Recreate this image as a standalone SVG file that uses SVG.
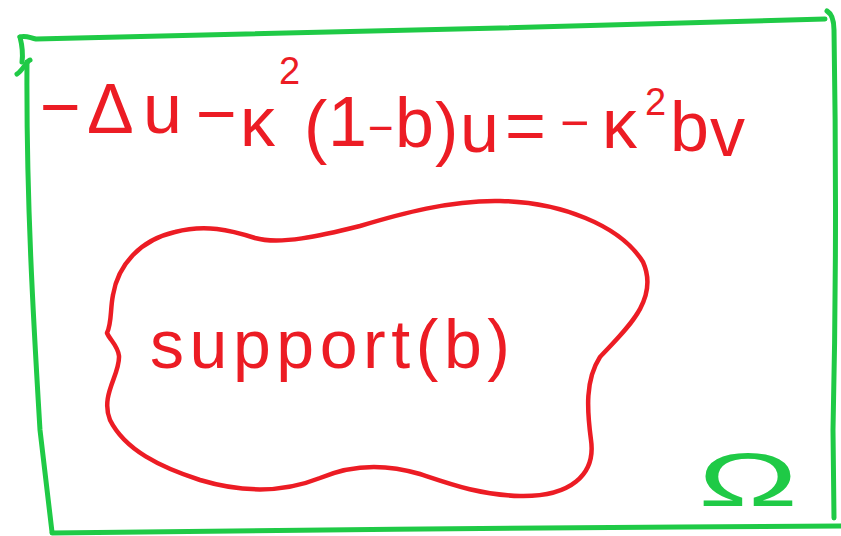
<svg xmlns="http://www.w3.org/2000/svg" width="841" height="536" viewBox="0 0 841 536">
  <style>
    .green { fill: none; stroke: #1fca46; stroke-width: 5; stroke-linecap: round; stroke-linejoin: round; }
    .red { fill: none; stroke: #ec1c24; stroke-width: 4.5; stroke-linecap: round; stroke-linejoin: round; }
    .redtxt { fill: #ec1c24; font-family: "Liberation Sans", "DejaVu Sans", sans-serif; }
    .greentxt { fill: #1fca46; font-family: "Liberation Sans", "DejaVu Sans", sans-serif; }
  </style>
  <rect width="841" height="536" fill="#ffffff"/>

  <g id="domain">
    <path class="green" d="M 20 37 C 26 35, 30 38, 36 39 C 120 37, 300 33, 500 28 C 600 25, 700 22, 825 19"/>
    <path class="green" d="M 20 37 C 22 45, 23 55, 22 62"/>
    <path class="green" d="M 30 60 C 26 62, 23 70, 17 74"/>
    <path class="green" d="M 27 62 C 26 200, 34 330, 40 430 L 52 532"/>
    <path class="green" d="M 827 11 C 832 14, 834 20, 834 30 C 836 150, 836 300, 833 430 L 834 518"/>
    <path class="green" d="M 52 533 C 200 531, 500 528, 680 527 L 841 526"/>
  </g>

  <g id="omega-label">
    <text class="greentxt" x="698" y="506" font-size="76" textLength="100" lengthAdjust="spacingAndGlyphs">Ω</text>
  </g>

  <g id="equation">
    <text class="redtxt" font-size="70">
      <tspan x="40" y="131">−</tspan>
      <tspan x="87" y="133">Δ</tspan>
      <tspan x="143" y="133">u</tspan>
      <tspan x="196" y="138">−</tspan>
      <tspan x="240" y="146">κ</tspan>
      <tspan x="279" y="84" font-size="38">2</tspan>
      <tspan x="304" y="150">(</tspan>
      <tspan x="328" y="146">1</tspan>
      <tspan x="368" y="143" font-size="44">−</tspan>
      <tspan x="395" y="147">b</tspan>
      <tspan x="435" y="152">)</tspan>
      <tspan x="460" y="152">u</tspan>
      <tspan x="505" y="150">=</tspan>
      <tspan x="560" y="140" font-size="50">−</tspan>
      <tspan x="602" y="148">κ</tspan>
      <tspan x="645" y="115" font-size="38">2</tspan>
      <tspan x="670" y="151">b</tspan>
      <tspan x="710" y="156">v</tspan>
    </text>
  </g>

  <g id="support-region">
    <path class="red" d="M 107 333 C 112 322, 110 310, 113 295 C 118 265, 140 240, 175 232 C 205 224, 230 230, 255 238 C 280 245, 320 236, 360 226 C 400 214, 450 200, 500 201 C 560 202, 620 225, 643 262 C 660 300, 625 330, 600 357 C 585 380, 587 410, 591 440 C 596 475, 570 497, 520 496 C 480 495, 450 484, 420 474 C 390 465, 355 463, 320 478 C 280 494, 240 492, 200 480 C 160 467, 125 450, 110 420 C 100 395, 120 375, 119 356 C 118 346, 110 340, 107 333 Z"/>
    <text class="redtxt" x="150" y="368" font-size="68" textLength="360" lengthAdjust="spacing">support(b)</text>
  </g>
</svg>
